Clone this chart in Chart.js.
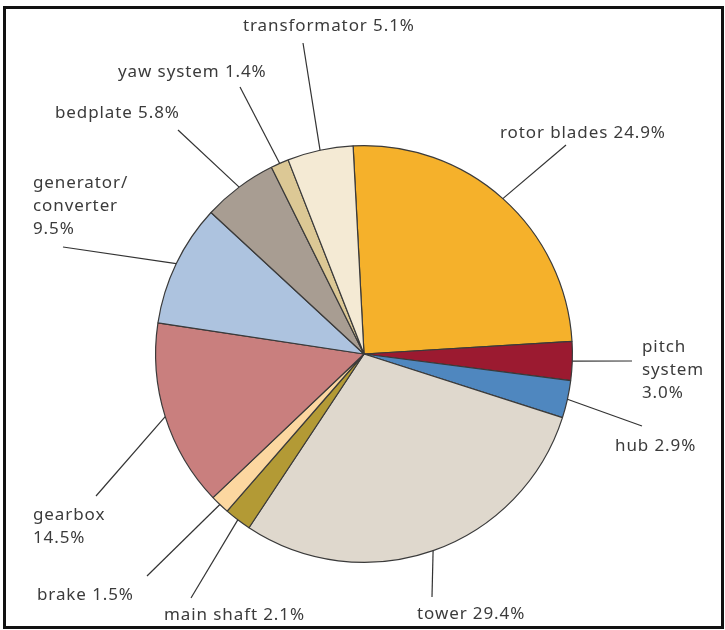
<!DOCTYPE html>
<html>
<head>
<meta charset="utf-8">
<title>Wind turbine cost breakdown</title>
<script src="https://cdn.jsdelivr.net/npm/chart.js@4.4.1/dist/chart.umd.min.js"></script>
<style>
  html, body { margin: 0; padding: 0; background: #fff; }
</style>
</head>
<body>
<canvas id="costChart" width="725" height="630"></canvas>
<script>
// component share of turbine cost, clockwise from the top
var components = ['rotor blades', 'pitch\nsystem', 'hub', 'tower', 'main shaft', 'brake',
                  'gearbox', 'generator/\nconverter', 'bedplate', 'yaw system', 'transformator'];
var shares = [24.9, 3.0, 2.9, 29.4, 2.1, 1.5, 14.5, 9.5, 5.8, 1.4, 5.1];
var sliceColors = ['#f5b12b', '#9b1a30', '#4f87bf', '#dfd8cd', '#b39a35', '#fcd7a0',
                   '#c97f7e', '#adc3df', '#a89d92', '#dcc895', '#f4ead4'];

// label anchor (x,y = first text line, left aligned) and end of leader line
var labelSpots = [
  { x: 500, y: 133, lx: 566, ly: 145 },
  { x: 642, y: 347, lx: 632, ly: 361, split: true },
  { x: 615, y: 446, lx: 642, ly: 426 },
  { x: 417, y: 614, lx: 432, ly: 597 },
  { x: 164, y: 615, lx: 191, ly: 598 },
  { x: 37,  y: 595, lx: 147, ly: 576 },
  { x: 33,  y: 515, lx: 96,  ly: 496, split: true },
  { x: 33,  y: 183, lx: 63,  ly: 247, split: true },
  { x: 55,  y: 113, lx: 178, ly: 130 },
  { x: 118, y: 72,  lx: 240, ly: 87 },
  { x: 243, y: 26,  lx: 303, ly: 43 }
];

var leaderLabels = {
  id: 'leaderLabels',
  afterDraw: function (chart) {
    var ctx = chart.ctx;
    var arcs = chart.getDatasetMeta(0).data;
    ctx.save();

    // frame
    ctx.strokeStyle = '#111';
    ctx.lineWidth = 3;
    ctx.strokeRect(4.5, 7.5, 718, 620);

    ctx.strokeStyle = '#333';
    ctx.lineWidth = 1.2;
    ctx.fillStyle = '#3b3b3b';
    ctx.font = '17px "Noto Sans", sans-serif';
    ctx.letterSpacing = '0.9px';
    ctx.textAlign = 'left';
    ctx.textBaseline = 'middle';

    arcs.forEach(function (arc, i) {
      var p = arc.getProps(['x', 'y', 'startAngle', 'endAngle', 'outerRadius'], true);
      var mid = (p.startAngle + p.endAngle) / 2;
      var spot = labelSpots[i];
      ctx.beginPath();
      ctx.moveTo(p.x + Math.cos(mid) * p.outerRadius, p.y + Math.sin(mid) * p.outerRadius);
      ctx.lineTo(spot.lx, spot.ly);
      ctx.stroke();

      var value = shares[i].toFixed(1) + '%';
      var lines = components[i].split('\n');
      if (spot.split) {
        lines.push(value);
      } else {
        lines[lines.length - 1] += ' ' + value;
      }
      lines.forEach(function (line, k) {
        ctx.fillText(line, spot.x, spot.y + k * 23);
      });
    });
    ctx.restore();
  }
};

new Chart(document.getElementById('costChart'), {
  type: 'pie',
  data: {
    labels: components,
    datasets: [{
      data: shares,
      backgroundColor: sliceColors,
      borderColor: '#3a3a3a',
      borderWidth: 1.2,
      hoverOffset: 0
    }]
  },
  options: {
    responsive: false,
    animation: false,
    rotation: -3,
    layout: { padding: { top: 145, bottom: 67, left: 155, right: 152 } },
    plugins: {
      legend: { display: false },
      tooltip: { enabled: false }
    }
  },
  plugins: [leaderLabels]
});
</script>
</body>
</html>
